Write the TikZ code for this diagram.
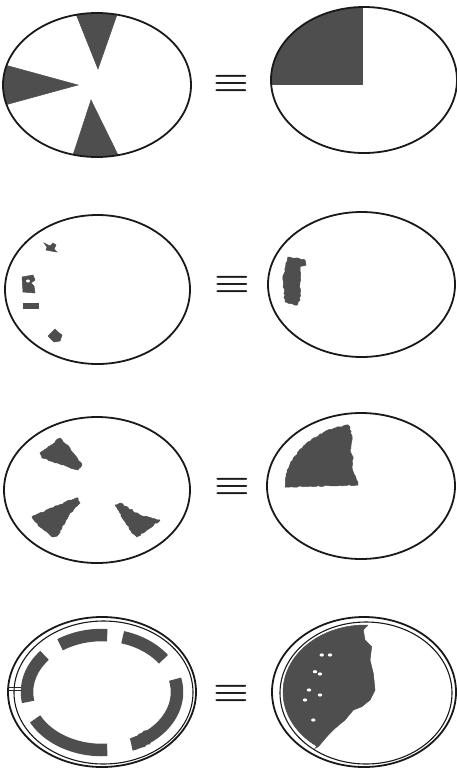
\documentclass[tikz,border=0pt]{standalone}
\usetikzlibrary{decorations.pathmorphing}
\definecolor{inkgray}{HTML}{4E4E4E}
\begin{document}
\begin{tikzpicture}[x=1pt,y=-1pt,
  oval/.style={draw=black!90, line width=1.8pt},
  thinoval/.style={draw=black!90, line width=1.1pt},
  ink/.style={fill=inkgray, draw=inkgray, line width=0.5pt},
  ragged/.style={decorate, decoration={random steps, segment length=2.2pt, amplitude=0.7pt}},
  band/.style={draw=inkgray, line width=12.5pt, ragged},
  hole/.style={fill=white},
  eqsign/.style={font=\boldmath, scale=4, yscale=0.8, inner sep=0pt, text=black!90}]
\pgfmathsetseed{7}
\useasboundingbox[fill=white] (0,0) rectangle (457,769);

% ---------- row 1 ----------
\begin{scope}
  \clip (97,85) ellipse [x radius=94, y radius=72];
  \fill[ink] (98,69) -- (68.4,-5) -- (123.9,-5) -- cycle;
  \fill[ink] (78,85) -- (-10,60.9) -- (-10,109.1) -- cycle;
  \fill[ink] (91,100) -- (68.1,170) -- (125.4,170) -- cycle;
\end{scope}
\draw[oval] (97,85) ellipse [x radius=94, y radius=72];
\node[eqsign] (eq1) at (231,83) {$\equiv$};
\begin{scope}
  \clip (364,80) ellipse [x radius=93, y radius=73];
  \fill[ink] (260,0) rectangle (362,84);
\end{scope}
\draw[oval] (364,80) ellipse [x radius=93, y radius=73];

% ---------- row 2 ----------
\draw[oval] (97.5,289.5) ellipse [x radius=92.5, y radius=74.5];
\fill[ink] (44,243) -- (50,246) -- (53,243) -- (56,245) -- (54,249) -- (57,252) -- (51,251) -- (46,250) -- (47,247) -- cycle;
\fill[ink] (22,277) -- (33,275) -- (35,280) -- (31,283) -- (34,286) -- (35,293) -- (23,292) -- cycle;
\fill[hole] (28,281) ellipse [x radius=2, y radius=1.5];
\fill[ink] (23,303) rectangle (38,308);
\fill[ink] (48,336) -- (55,329) -- (58,332) -- (62,335) -- (60,341) -- (54,342) -- (51,339) -- cycle;
\node[eqsign] (eq2) at (232,284) {$\equiv$};
\draw[oval] (361.5,284.5) ellipse [x radius=93.5, y radius=72.5];
\fill[ink, ragged] (288,257) -- (305,260) -- (306,265) -- (300,267) -- (300,300) -- (297,305) -- (285,302) -- (283,280) -- (286,263) -- cycle;

% ---------- row 3 ----------
\draw[oval] (97,490) ellipse [x radius=93, y radius=73];
\fill[ink, ragged] (40,453) -- (60,438) -- (70,448) -- (82,465) -- (78,470) -- (66,466) -- (42,458) -- cycle;
\fill[ink, ragged] (32,517) -- (70,500) -- (78,498) -- (80,503) -- (70,513) -- (58,535) -- (53,537) -- (40,527) -- cycle;
\fill[ink, ragged] (115,505) -- (120,503) -- (140,515) -- (160,520) -- (147,530) -- (137,537) -- (132,533) -- (120,513) -- cycle;
\node[eqsign] (eq3) at (232,486) {$\equiv$};
\draw[oval] (361,486) ellipse [x radius=94, y radius=73];
\fill[ink, ragged] (285,487) .. controls (285,455) and (315,430) .. (348,425)
  -- (350,427) -- (352,440) -- (350,450) -- (353,457) -- (352,468) -- (356,478) -- (358,485) -- cycle;

% ---------- row 4 ----------
\draw[oval] (102,692) ellipse [x radius=94, y radius=75];
\draw[thinoval] (103.5,692.5) ellipse [x radius=89.5, y radius=71.5];
\draw[black!85, line width=0.8pt] (8,687) -- (21,687) (8,690.5) -- (21,690.5);
\draw[band] plot[domain=86:124, samples=20] ({102+75*cos(\x)},{692-57*sin(\x)});
\draw[band] plot[domain=35:74, samples=20] ({102+75*cos(\x)},{692-57*sin(\x)});
\draw[band] plot[domain=140:190, samples=20] ({102+75*cos(\x)},{692-57*sin(\x)});
\draw[band] plot[domain=-67:13, samples=30] ({102+75*cos(\x)},{692-57*sin(\x)});
\draw[band] plot[domain=207:274, samples=30] ({102+75*cos(\x)},{693-57*sin(\x)});
\node[eqsign] (eq4) at (231,693) {$\equiv$};
\draw[oval] (364,692) ellipse [x radius=92, y radius=75];
\draw[thinoval] (366,693) ellipse [x radius=86, y radius=71];
\fill[ink] plot[domain=234:88, samples=40] ({365+82*cos(\x)},{692-67*sin(\x)})
  -- (363.3,630) -- (365,640) -- (371.7,646.7) -- (370,660) -- (373.3,673.3) -- (375,690)
  -- (370,700) -- (361.7,706.7) -- (353.3,710) -- (345,720) -- (335,728.3) -- (326.7,736.7)
  -- (318.3,746.7) -- (315,748.3) -- cycle;
\foreach \hx/\hy in {321.7/655, 330/655, 315/671.7, 320/674, 305/700, 320/695, 313.3/720, 309/690}
  \fill[hole] (\hx,\hy) ellipse [x radius=2.2, y radius=1.6];
\end{tikzpicture}
\end{document}
